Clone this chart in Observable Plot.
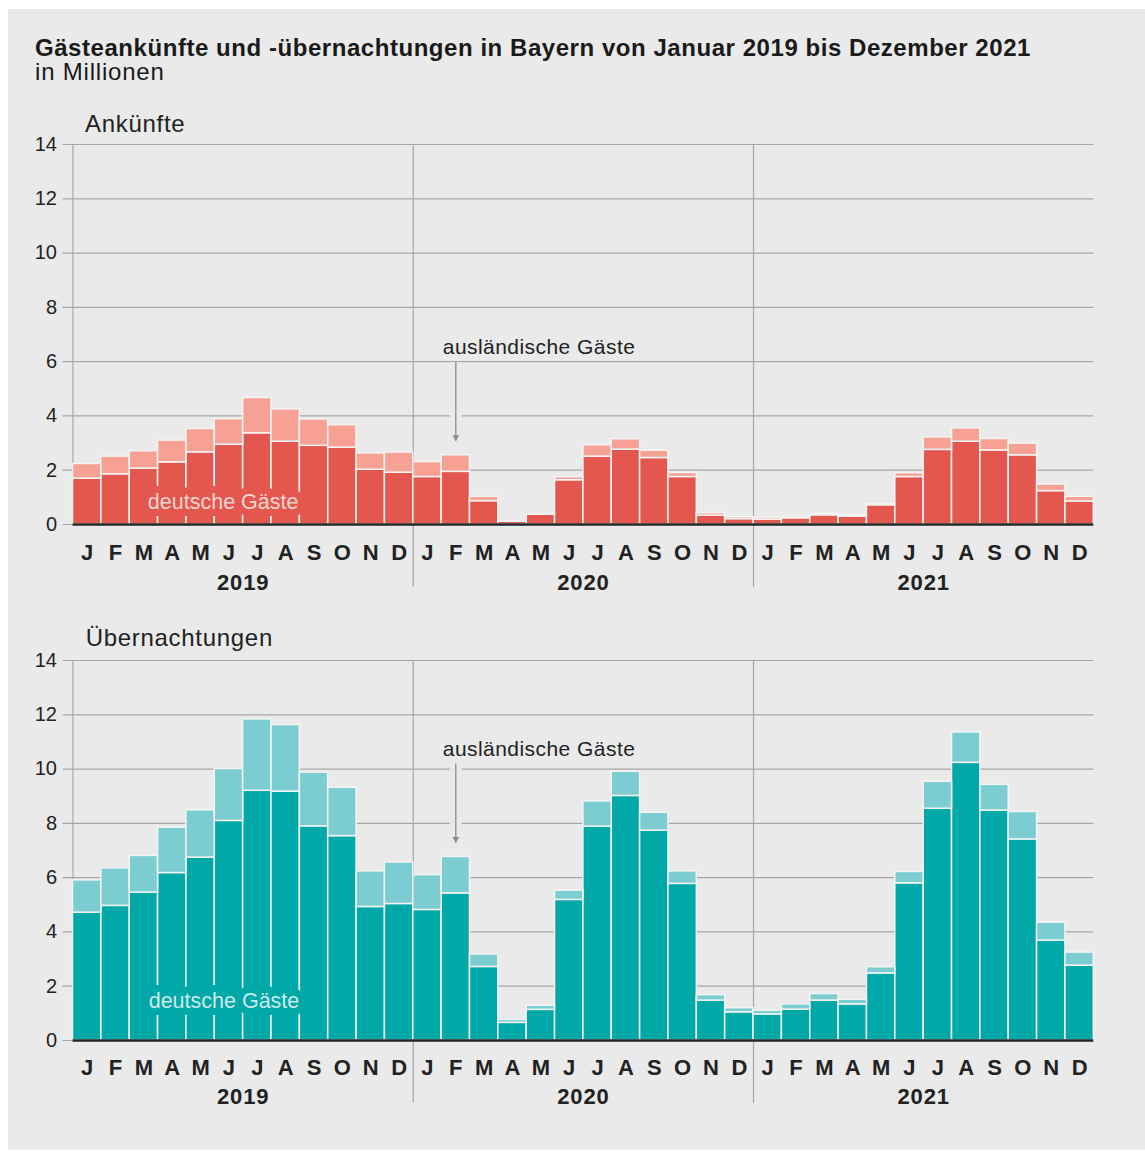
<!DOCTYPE html>
<html><head><meta charset="utf-8">
<script src="https://cdn.jsdelivr.net/npm/d3@7"></script>
<script src="https://cdn.jsdelivr.net/npm/@observablehq/plot@0.6"></script>
<style>
body{margin:0;background:#fff;font-family:"Liberation Sans",Arial,sans-serif;}
#panel{position:absolute;left:8px;top:9px;width:1137px;height:1141px;background:#e9eae9;overflow:hidden}
.t{position:absolute;white-space:nowrap;line-height:1;color:#1a1a1a}
#title{left:27px;top:26.7px;font-size:24px;font-weight:bold;letter-spacing:0.55px}
#sub{left:27px;top:51.4px;font-size:24px;letter-spacing:0.8px}
.hd{font-size:24px;letter-spacing:0.7px;color:#222}
#c1,#c2{position:absolute;left:0}
#c1{top:91px}#c2{top:607px}
</style></head><body>
<div id="panel">
<div class="t" id="title">Gästeankünfte und -übernachtungen in Bayern von Januar 2019 bis Dezember 2021</div>
<div class="t" id="sub">in Millionen</div>
<div class="t hd" style="left:77px;top:103.4px">Ankünfte</div>
<div class="t hd" style="left:77.7px;top:617.4px">Übernachtungen</div>
<div id="c1"></div>
<div id="c2"></div>
</div>
<script>
const months = ["J","F","M","A","M","J","J","A","S","O","N","D"];
const years = ["2019","2020","2021"];
const yTicks = [0,2,4,6,8,10,12,14];

// Ankünfte (Mio.), Jan 2019 – Dez 2021
const arrivalsGerman = [1.69,1.85,2.06,2.29,2.66,2.94,3.36,3.05,2.90,2.83,2.02,1.91,
  1.75,1.94,0.86,0.10,0.36,1.63,2.50,2.76,2.45,1.75,0.33,0.20,
  0.18,0.23,0.34,0.29,0.71,1.75,2.75,3.05,2.73,2.55,1.23,0.85];
const arrivalsForeign = [0.54,0.65,0.64,0.80,0.86,0.94,1.30,1.19,0.97,0.83,0.60,0.74,
  0.55,0.61,0.16,0.02,0.02,0.11,0.42,0.38,0.27,0.15,0.09,0.07,
  0.07,0.06,0.05,0.05,0.04,0.14,0.46,0.49,0.42,0.43,0.24,0.17];
// Übernachtungen (Mio.)
const nightsGerman = [4.71,4.96,5.45,6.17,6.74,8.09,9.20,9.17,7.89,7.53,4.92,5.03,
  4.81,5.42,2.71,0.65,1.13,5.18,7.88,9.01,7.73,5.77,1.47,1.04,
  0.96,1.14,1.47,1.33,2.47,5.79,8.54,10.23,8.47,7.41,3.68,2.76];
const nightsForeign = [1.19,1.38,1.35,1.67,1.74,1.91,2.63,2.45,1.98,1.78,1.31,1.53,
  1.28,1.34,0.46,0.11,0.15,0.34,0.93,0.89,0.66,0.46,0.20,0.15,
  0.14,0.19,0.24,0.17,0.23,0.42,0.99,1.12,0.95,1.01,0.66,0.48];

const BG = "#e9eae9", GRID = "#a6a6a6", SEP = "#f4f4f4", INK = "#222";

function chart(german, foreign, cDe, cAus, labelColor, cfg) {
  const rows = german.map((g, i) => ({i, g, f: foreign[i]}));
  const monthRows = rows.map(r => ({i: r.i, m: months[r.i % 12]}));
  const yearRows = years.map((y, k) => ({k, y}));
  const svg = Plot.plot({
    width: 1137, height: 500,
    marginLeft: 64.5, marginRight: 51.7, marginTop: 44, marginBottom: 76,
    x: {domain: [0, 36], axis: null},
    y: {domain: [0, 14], axis: null},
    style: {background: "transparent", fontFamily: "Liberation Sans, Arial, sans-serif", overflow: "visible"},
    marks: [
      Plot.ruleY(yTicks, {y: d => d, stroke: GRID, strokeWidth: 1.2, insetLeft: -10}),
      Plot.ruleX([0], {x: d => d, stroke: GRID, strokeWidth: 1.2}),
      Plot.ruleX(yearRows.slice(1), {x: d => 12 * d.k, y1: 14, y2: 0, insetBottom: -63, stroke: GRID, strokeWidth: 1.2}),
      Plot.ruleX([13.5], {x: d => d, y1: cfg.arrowTop, y2: cfg.arrowTip, stroke: BG, strokeWidth: 12}),
      Plot.rect(rows, {x1: "i", x2: d => d.i + 1, y1: 0, y2: "g", fill: cDe, stroke: SEP, strokeWidth: 1.5}),
      Plot.rect(rows, {x1: "i", x2: d => d.i + 1, y1: "g", y2: d => d.g + d.f, fill: cAus, stroke: SEP, strokeWidth: 1.5}),
      Plot.ruleY([0], {y: d => d, stroke: "#262626", strokeWidth: 2.5}),
      Plot.text(yTicks, {x: 0, y: d => d, text: d => String(d), textAnchor: "end", dx: -16, fontSize: 20, fill: INK}),
      Plot.text(monthRows, {x: d => d.i + 0.5, y: 0, text: "m", dy: cfg.monthDy, lineAnchor: "bottom", fontSize: 22, fontWeight: "bold", fill: INK}),
      Plot.text(yearRows, {x: d => 12 * d.k + 6, y: 0, text: "y", dy: cfg.yearDy, lineAnchor: "bottom", fontSize: 22, fontWeight: "bold", fill: INK}),
      Plot.text(["deutsche Gäste"], {x: cfg.deX, y: cfg.deY, text: d => d, textAnchor: "start", lineAnchor: "bottom", fontSize: 21.5, fill: labelColor, stroke: cDe, strokeWidth: 14, paintOrder: "stroke", strokeLinejoin: "round"}),
      Plot.ruleX([13.5], {x: d => d, y1: cfg.arrowTop, y2: cfg.arrowTip, stroke: "#8c8c8c", strokeWidth: 1.3}),
      Plot.dot([13.5], {x: d => d, y: cfg.arrowTip, symbol: "triangle", rotate: 180, r: 2.5, fill: "#8c8c8c", dy: -3.9}),
      Plot.text(["ausländische Gäste"], {x: 13.04, y: cfg.ausY, text: d => d, textAnchor: "start", lineAnchor: "bottom", fontSize: 21, fill: INK})
    ]
  });
  d3.select(svg).selectAll("text").each(function() {
    const t = this.textContent;
    if (t === "ausländische Gäste") this.style.letterSpacing = "0.45px";
    if (years.includes(t)) this.style.letterSpacing = "0.8px";
  });
  return svg;
}

document.getElementById("c1").appendChild(
  chart(arrivalsGerman, arrivalsForeign, "#e4574f", "#f7a194", "#f3d5d1",
    {arrowTop: 5.97, arrowTip: 3.07, monthDy: 35, yearDy: 65, deX: 2.64, deY: 0.56, ausY: 6.27}));
document.getElementById("c2").appendChild(
  chart(nightsGerman, nightsForeign, "#00a8a8", "#7bcdd1", "#cdeaea",
    {arrowTop: 10.19, arrowTip: 7.28, monthDy: 34, yearDy: 63.3, deX: 2.67, deY: 1.20, ausY: 10.49}));
</script>
</body></html>
